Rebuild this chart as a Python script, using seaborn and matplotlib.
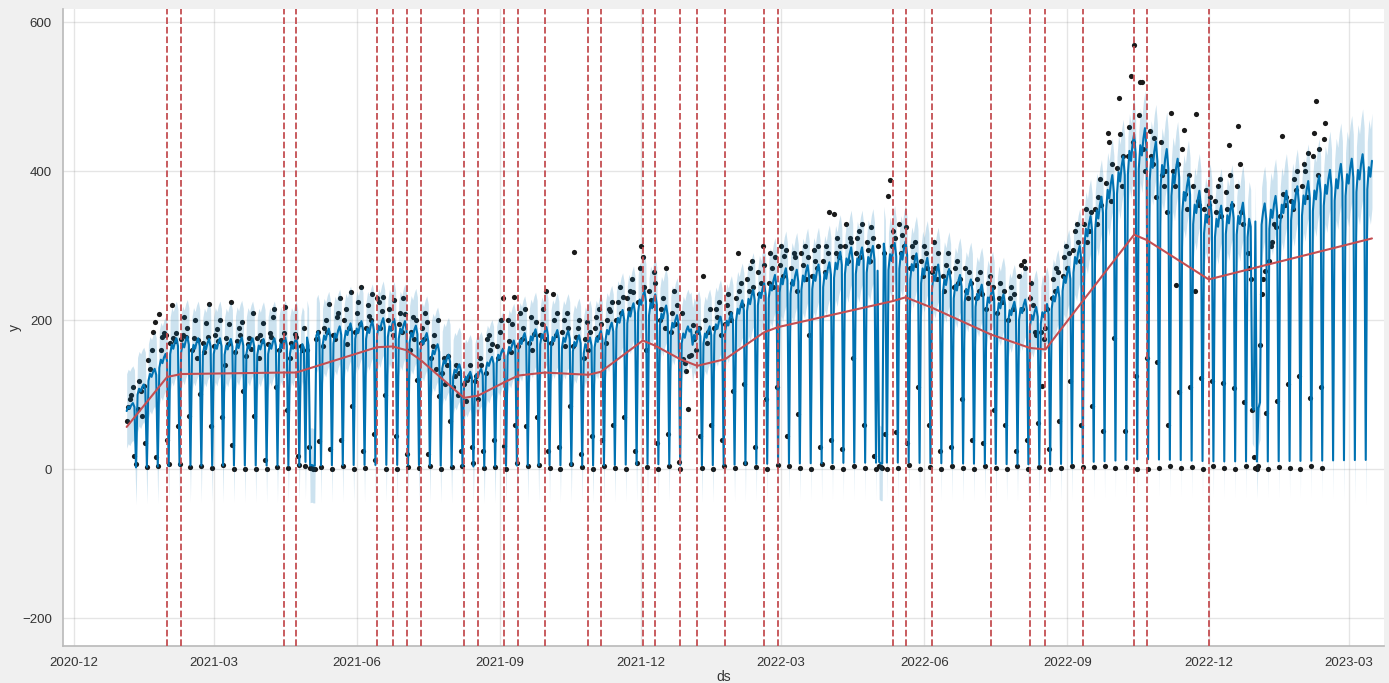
import numpy as np
import pandas as pd
import matplotlib
matplotlib.use('Agg')
import matplotlib.pyplot as plt
import matplotlib.dates as mdates
import seaborn as sns

sns.set_theme(style='whitegrid')
plt.rcParams['font.family'] = ['Liberation Sans', 'DejaVu Sans']

# first day of history / forecast (a Monday)
start = pd.Timestamp('2021-01-04')
history_end = pd.Timestamp('2023-02-14')
forecast_end = pd.Timestamp('2023-03-16')

# forecast peak (weekday top of yhat) for each week
week_peak = [89, 114, 135, 155, 176, 178, 176, 175, 176, 175,
             177, 176, 175, 176, 177, 176, 177, 185, 189, 192,
             196, 199, 199, 203, 202, 199, 193, 183, 168, 154,
             141, 131, 135, 151, 162, 173, 183, 188, 191, 187,
             186, 180, 177, 186, 197, 214, 223, 240, 235, 220,
             207, 192, 190, 192, 205, 210, 227, 241, 250, 261,
             270, 268, 274, 275, 278, 292, 298, 298, 300, 303,
             304, 306, 290, 284, 275, 269, 261, 255, 248, 243,
             235, 225, 228, 218, 222, 245, 272, 300, 340, 366,
             395, 420, 450, 458, 440, 430, 417, 392, 374, 360,
             354, 359, 358, 354, 357, 367, 374, 380, 387, 394,
             402, 410, 417, 423, 427]

# weekly shape Mon..Sun, relative to the weekly peak
week_shape = [0.88, 0.95, 0.92, 0.97, 1.00, 0.94, 0.03]

# holidays where the forecast departs from the weekly shape
holiday_dates = ['2021-04-29', '2021-05-03', '2021-05-04', '2021-05-05',
                 '2022-01-01', '2022-01-02',
                 '2022-05-03', '2022-05-04', '2022-05-05',
                 '2022-12-29', '2022-12-30', '2023-01-02', '2023-01-03']
holiday_yhat = [10, 6, 5, 5, 185, 188, 10, 8, 8, 85, 80, 82, 90]

# interval half width (history) and for the forecast weeks
band_half_hist = 50
band_half_future = [52, 55, 58, 61, 64]

# observed values, one row per week (Mon..Sun)
observed_weeks = [
    [65, 84, 94, 100, 110, 18, 7], [81, 118, 105, 72, 112, 36, 3],
    [147, 135, 160, 185, 198, 17, 5], [208, 160, 178, 183, 181, 40, 7],
    [170, 221, 177, 172, 183, 58, 7], [175, 180, 205, 178, 190, 72, 3],
    [160, 176, 200, 150, 174, 101, 4], [170, 158, 196, 178, 222, 58, 2],
    [165, 180, 188, 172, 201, 70, 6], [140, 176, 168, 195, 225, 33, 0],
    [158, 172, 190, 180, 198, 105, 1], [152, 168, 177, 162, 210, 72, 0],
    [176, 150, 180, 172, 197, 12, 0], [168, 183, 178, 205, 215, 110, 3],
    [160, 174, 170, 183, 218, 80, 2], [150, 170, 165, 182, 178, 18, 6],
    [165, 160, 190, 5, 160, 30, 2], [2, 0, 1, 175, 185, 38, 3],
    [165, 190, 200, 185, 222, 28, 0], [180, 175, 205, 210, 230, 40, 4],
    [200, 215, 168, 190, 238, 85, 0], [185, 210, 225, 195, 245, 25, 2],
    [190, 220, 206, 200, 235, 48, 12], [230, 225, 190, 212, 232, 100, 1],
    [200, 215, 190, 180, 228, 45, 0], [195, 210, 185, 230, 208, 20, 3],
    [160, 185, 205, 175, 200, 120, 2], [170, 190, 175, 210, 198, 20, 5],
    [150, 165, 180, 135, 200, 98, 1], [130, 150, 115, 140, 152, 65, 3],
    [110, 125, 140, 100, 130, 25, 4], [115, 92, 120, 125, 140, 30, 8],
    [118, 125, 95, 150, 140, 25, 2], [130, 175, 180, 160, 168, 40, 3],
    [165, 150, 185, 200, 230, 32, 0], [200, 172, 158, 195, 232, 60, 8],
    [165, 210, 175, 190, 215, 58, 4], [170, 205, 160, 182, 198, 70, 6],
    [180, 195, 215, 175, 240, 25, 2], [170, 235, 200, 180, 210, 30, 0],
    [185, 200, 165, 210, 190, 85, 7], [165, 292, 178, 190, 200, 20, 3],
    [150, 175, 198, 160, 185, 45, 0], [190, 205, 178, 215, 195, 40, 5],
    [170, 200, 215, 212, 225, 60, 2], [200, 225, 245, 210, 232, 70, 1],
    [230, 215, 240, 255, 238, 25, 8], [225, 270, 300, 285, 245, 160, 3],
    [240, 228, 220, 265, 250, 35, 0], [200, 215, 230, 190, 270, 48, 4],
    [185, 210, 240, 195, 220, 10, 1], [210, 148, 143, 132, 81, 152, 153],
    [194, 175, 160, 185, 190, 45, 2], [259, 200, 170, 185, 215, 60, 0],
    [190, 215, 205, 225, 180, 40, 5], [195, 220, 235, 210, 200, 105, 2],
    [230, 291, 240, 250, 220, 115, 8], [255, 240, 270, 280, 245, 30, 3],
    [265, 235, 250, 300, 275, 95, 0], [250, 290, 270, 245, 285, 110, 6],
    [275, 300, 260, 287, 295, 45, 4], [270, 250, 290, 285, 240, 75, 2],
    [290, 275, 300, 255, 285, 180, 0], [260, 295, 280, 270, 300, 30, 7],
    [280, 265, 300, 290, 345, 40, 3], [343, 290, 310, 285, 300, 28, 1],
    [300, 330, 280, 310, 305, 150, 5], [290, 310, 320, 285, 330, 60, 2],
    [305, 295, 280, 325, 310, 18, 0], [300, 4, 3, 2, 290, 48, 0],
    [367, 388, 300, 320, 310, 50, 2], [330, 290, 315, 300, 325, 35, 6],
    [270, 300, 285, 305, 275, 110, 0], [280, 260, 300, 290, 270, 60, 3],
    [265, 305, 270, 255, 290, 25, 1], [260, 240, 275, 290, 265, 30, 5],
    [245, 270, 280, 250, 255, 95, 2], [270, 240, 230, 265, 250, 40, 0],
    [230, 255, 240, 265, 235, 35, 4], [215, 250, 260, 230, 245, 80, 2],
    [210, 230, 250, 225, 240, 60, 0], [200, 230, 245, 215, 235, 25, 5],
    [260, 275, 215, 280, 270, 40, 1], [230, 250, 220, 185, 180, 62, 3],
    [185, 112, 175, 190, 215, 28, 0], [230, 255, 240, 270, 265, 65, 2],
    [260, 285, 300, 270, 290, 118, 5], [295, 320, 330, 305, 280, 60, 3],
    [330, 350, 305, 320, 345, 85, 3], [350, 330, 365, 390, 355, 51, 4],
    [385, 452, 440, 360, 410, 176, 2], [405, 499, 450, 380, 420, 51, 3],
    [420, 460, 528, 440, 569, 125, 0], [475, 520, 520, 430, 400, 150, 1],
    [454, 420, 410, 445, 365, 144, 2], [440, 395, 380, 400, 345, 60, 5],
    [479, 400, 380, 247, 410, 104, 2], [430, 455, 370, 350, 395, 110, 3],
    [380, 240, 477, 360, 355, 123, 1], [350, 375, 340, 355, 365, 118, 4],
    [360, 345, 380, 390, 340, 116, 2], [372, 350, 436, 395, 355, 109, 0],
    [380, 461, 410, 345, 330, 90, 5], [290, 270, 255, 80, 16, 2, 1],
    [4, 167, 235, 255, 266, 76, 0], [280, 300, 305, 330, 325, 92, 3],
    [340, 447, 370, 355, 365, 114, 2], [360, 350, 390, 375, 400, 125, 0],
    [380, 410, 400, 365, 425, 96, 4], [420, 452, 494, 395, 430, 110, 2],
    [444, 465],
]

# piecewise linear trend, knots at the changepoints
trend_dates = ['2021-01-04', '2021-01-30', '2021-02-08', '2021-04-15', '2021-04-23',
               '2021-06-14', '2021-06-24', '2021-07-03', '2021-07-12', '2021-08-09',
               '2021-08-18', '2021-09-04', '2021-09-13', '2021-09-30', '2021-10-28',
               '2021-11-05', '2021-12-02', '2021-12-10', '2021-12-26', '2022-01-06',
               '2022-01-24', '2022-02-18', '2022-02-27', '2022-05-12', '2022-05-20',
               '2022-06-06', '2022-07-14', '2022-08-08', '2022-08-18', '2022-09-11',
               '2022-10-14', '2022-10-22', '2022-12-01', '2023-03-16']
trend_values = [57, 124, 128, 130, 130,
                164, 165, 160, 147, 96,
                99, 117, 126, 130, 127,
                131, 173, 166, 148, 139,
                148, 184, 191, 226, 231,
                217, 181, 163, 161, 226,
                315, 308, 255, 310]
changepoints = trend_dates[1:-1]

# forecast frame
fc = pd.DataFrame({'ds': pd.date_range(start, forecast_end, freq='D')})
idx = np.arange(len(fc))
fc['yhat'] = [week_peak[i // 7] * week_shape[i % 7] for i in idx]
for d, v in zip(holiday_dates, holiday_yhat):
    fc.loc[fc['ds'] == pd.Timestamp(d), 'yhat'] = v
half = np.full(len(fc), float(band_half_hist))
n_hist_weeks = len(week_peak) - len(band_half_future)
for j, h in enumerate(band_half_future):
    half[(idx // 7) == n_hist_weeks + j] = h
fc['lower'] = fc['yhat'] - half
fc['upper'] = fc['yhat'] + half

obs_vals = [v for row in observed_weeks for v in row]
hist = pd.DataFrame({'ds': pd.date_range(start, history_end, freq='D'), 'y': obs_vals})

trend = pd.DataFrame({'ds': pd.to_datetime(trend_dates), 'trend': trend_values})

fig = plt.figure(figsize=(13.89, 6.83), dpi=100, facecolor='#f0f0f0')
ax = fig.add_axes([0.0454, 0.0542, 0.9511, 0.9327])

sns.scatterplot(data=hist, x='ds', y='y', color='k', s=14, linewidth=0, ax=ax, zorder=2)
sns.lineplot(data=fc, x='ds', y='yhat', color='#0072B2', lw=1.5, estimator=None, ax=ax, zorder=3)
ax.fill_between(fc['ds'], fc['lower'], fc['upper'], color='#0072B2', alpha=0.2, lw=0, zorder=3)
sns.lineplot(data=trend, x='ds', y='trend', color='#C44E52', lw=1.5, estimator=None, ax=ax, zorder=4)
for cp in changepoints:
    ax.axvline(pd.Timestamp(cp), color='#C44E52', ls='--', lw=1.3, zorder=4)

ax.grid(True, which='major', c='gray', ls='-', lw=1, alpha=0.2)
ax.set_xlim(pd.Timestamp('2020-11-24 02:00'), pd.Timestamp('2023-03-23 20:00'))
ax.set_ylim(-237, 618)
ax.set_yticks([-200, 0, 200, 400, 600])
ax.xaxis.set_major_locator(mdates.MonthLocator(bymonth=[3, 6, 9, 12]))
ax.xaxis.set_major_formatter(mdates.DateFormatter('%Y-%m'))
ax.tick_params(labelsize=9.5, colors='#333333', pad=2)
ax.set_xlabel('ds', fontsize=10, color='#333333', labelpad=1)
ax.set_ylabel('y', fontsize=10, color='#333333', labelpad=0)
for side in ['top', 'right']:
    ax.spines[side].set_visible(False)
for side in ['left', 'bottom']:
    ax.spines[side].set_color('#bbbbbb')

fig.savefig('out.png', dpi=100, facecolor=fig.get_facecolor())
